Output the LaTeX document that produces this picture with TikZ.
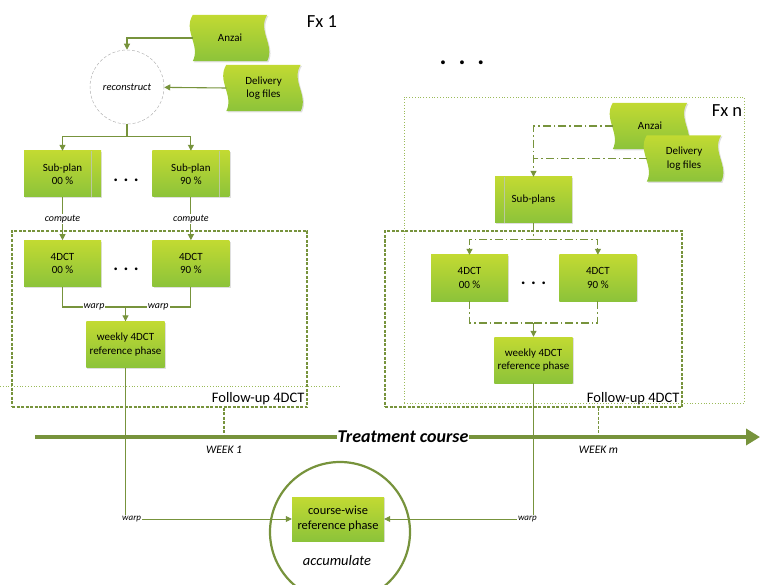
\documentclass[tikz,border=0pt]{standalone}
\usepackage{fontspec}
\setmainfont{Carlito}
\usepackage{tikz}
\usetikzlibrary{shapes,arrows.meta,shadows,backgrounds}
\usetikzlibrary{positioning}

\definecolor{olive}{RGB}{119,147,60}
\definecolor{lightolive}{RGB}{155,187,89}
\definecolor{limetop}{RGB}{194,218,50}
\definecolor{limebot}{RGB}{140,195,58}

\tikzstyle{line} = [olive, line width=1.1pt]
\tikzstyle{arrow} = [line, -{Triangle[length=6pt,width=6pt]}]
\tikzstyle{dline} = [line, dash pattern=on 8pt off 3pt on 1.5pt off 3pt]
\tikzstyle{darrow} = [dline, -{Triangle[length=6pt,width=6pt]}]
\tikzstyle{thinline} = [olive, line width=0.7pt]
\tikzstyle{thinarrow} = [thinline, -{Triangle[length=6pt,width=6pt]}]
\tikzstyle{timeline} = [olive, line width=4pt, -{Triangle[length=14pt,width=16pt]}]
\tikzstyle{phase} = [
    rectangle, minimum width=77pt, minimum height=46pt, align=center,
    top color=limetop, bottom color=limebot, draw=none,
    drop shadow={shadow xshift=1.2pt, shadow yshift=-1.2pt, opacity=0.25},
    font=\fontsize{11}{13.5}\selectfont]
\tikzstyle{subplan} = [phase, path picture={
    \draw[olive!50, line width=0.4pt]
      ([xshift=-10pt]path picture bounding box.north east) --
      ([xshift=-10pt]path picture bounding box.south east);}]
\tikzstyle{subplans} = [phase, path picture={
    \draw[olive!50, line width=0.4pt]
      ([xshift=9pt]path picture bounding box.north west) --
      ([xshift=9pt]path picture bounding box.south west);}]
\tikzstyle{tapebox} = [
    rectangle, minimum width=74pt, minimum height=46pt, align=center,
    font=\fontsize{11}{13.5}\selectfont]
\tikzstyle{recon} = [
    circle, draw=gray!60, densely dashed, line width=0.5pt,
    minimum size=74pt, inner sep=0pt, font=\fontsize{10.5}{12}\selectfont\itshape]
\tikzstyle{fubox} = [rectangle, draw=olive, line width=1.3pt,
    dash pattern=on 3pt off 1.5pt, inner sep=0pt]
\tikzstyle{fuline} = [olive, line width=1.3pt, dash pattern=on 3pt off 1.5pt]
\tikzstyle{fxbox} = [rectangle, draw=lightolive, line width=0.8pt, dotted, inner sep=0pt]
\tikzstyle{fxline} = [lightolive, line width=0.8pt, dotted]
\tikzstyle{lbl} = [fill=white, text=black, inner sep=1pt, font=\fontsize{10}{12}\selectfont\itshape]
\tikzstyle{smalllbl} = [inner sep=1pt, font=\fontsize{9}{11}\selectfont\itshape]
\tikzstyle{weeklbl} = [inner sep=1pt, font=\fontsize{11.5}{13}\selectfont\itshape]
\tikzstyle{fulabel} = [inner sep=3pt, font=\fontsize{14.5}{16}\selectfont]
\tikzstyle{fxlabel} = [inner sep=2pt, font=\fontsize{18.5}{20}\selectfont]
\tikzstyle{dots} = [inner sep=0pt, font=\fontsize{18}{18}\selectfont\bfseries]

\begin{document}
\begin{tikzpicture}[x=1pt, y=-1pt, node distance=51pt]
\useasboundingbox (0,0) rectangle (760,585);

% fraction 1
\node (fx1) [fxlabel] at (322,22) {Fx 1};
\node (anzA) [tapebox] at (230,38) {Anzai};
\node (delA) [tapebox] at (263.5,88) {Delivery\\log files};
\node (recon) [recon] at (127,87) {reconstruct};
\node (spA0) [subplan] at (62.5,174) {Sub-plan\\00 \%};
\node (spA9) [subplan, right=of spA0] {Sub-plan\\90 \%};
\node (dotsA1) [dots] at (126,180) {. . .};
\node (fuA) [fubox, minimum width=295pt, minimum height=176pt] at (159.5,319) {};
\node (fuAt) [fulabel, anchor=south east] at (fuA.south east) {Follow-up 4DCT};
\node (ctA0) [phase, below=43pt of spA0] {4DCT\\00 \%};
\node (ctA9) [phase, below=43pt of spA9] {4DCT\\90 \%};
\node (dotsA2) [dots] at (126,269) {. . .};
\node (wkA) [phase] at (125.5,344.5) {weekly 4DCT\\reference phase};

\draw [arrow] (anzA.west) -| (recon.north);
\draw [arrow] (delA.west) -- (recon);
\draw [line] (recon.south) -- ++(0,12) coordinate (splitA);
\draw [arrow] (splitA) -| (spA0.north);
\draw [arrow] (splitA) -| (spA9.north);
\draw [arrow] (spA0) -- node[lbl] {compute} (ctA0);
\draw [arrow] (spA9) -- node[lbl] {compute} (ctA9);
\coordinate (mergeA) at (wkA.north |- 0,307);
\draw [line] (ctA0.south) |- node[lbl, pos=0.75] {warp} (mergeA);
\draw [line] (ctA9.south) |- node[lbl, pos=0.75] {warp} (mergeA);
\draw [arrow] (mergeA) -- (wkA.north);

% fraction n
\node (dotsTop) [dots, font=\fontsize{26}{26}\selectfont\bfseries] at (462,63) {.\hspace{12pt}.\hspace{12pt}.};
\node (fxNbox) [fxbox, minimum width=340pt, minimum height=306pt] at (574,250) {};
\node (fxN) [fxlabel, anchor=north east, yshift=-6pt] at (fxNbox.north east) {Fx n};
\node (fuN) [fubox, minimum width=297pt, minimum height=176pt] at (533.5,319) {};
\node (fuNt) [fulabel, anchor=south east] at (fuN.south east) {Follow-up 4DCT};
\node (anzN) [tapebox] at (650,126) {Anzai};
\node (delN) [tapebox] at (684,158.5) {Delivery\\log files};
\node (spN) [subplans] at (533.5,200) {Sub-plans};
\node (ctN0) [phase] at (469.5,278) {4DCT\\00 \%};
\node (ctN9) [phase, right=of ctN0] {4DCT\\90 \%};
\node (dotsN) [dots] at (533.5,283) {. . .};
\node (wkN) [phase] at (533.5,360) {weekly 4DCT\\reference phase};

\draw [darrow] (anzN.west) -| (spN.north);
\draw [dline] (delN.west) -- (delN.west -| spN.north);
\draw [dline] (spN.south) -- ++(0,16) coordinate (splitN);
\draw [darrow] (splitN) -| (ctN0.north);
\draw [darrow] (splitN) -| (ctN9.north);
\coordinate (mergeN) at (wkN.north |- 0,323);
\draw [dline] (ctN0.south) |- (mergeN);
\draw [dline] (ctN9.south) |- (mergeN);
\draw [darrow] (mergeN) -- (wkN.north);

% tapes behind their texts
\begin{pgfonlayer}{background}
\foreach \t in {anzA,delA,anzN,delN}
  \shade [top color=limetop, bottom color=limebot,
          drop shadow={shadow xshift=1.2pt, shadow yshift=-1.2pt, opacity=0.25}]
    (\t.north west) .. controls +(-10,16) and +(8,-16) .. (\t.south west)
    -- (\t.south east) .. controls +(8,-16) and +(-10,16) .. (\t.north east) -- cycle;
\end{pgfonlayer}

% treatment course
\coordinate (dl0) at (0,386);
\coordinate (dl1) at (340,386);
\draw [fxline] (dl0) -- (dl1);
\coordinate (tl0) at (35,437);
\coordinate (tl1) at (760,437);
\draw [timeline] (tl0) -- (tl1);
\node (course) [fill=white, inner sep=1pt, font=\fontsize{18}{20}\selectfont\bfseries\itshape] at (403,437) {Treatment course};
\coordinate (wk1) at (224,437);
\coordinate (wkm) at (598.5,437);
\draw [fuline] (wk1 |- fuA.south) -- (wk1);
\draw [fuline] (wkm |- fuN.south) -- (wkm);
\node (week1) [weeklbl] at (224,450) {WEEK 1};
\node (weekm) [weeklbl] at (598.5,450) {WEEK m};

% accumulation
\node (acc) [circle, draw=olive, line width=2.2pt, minimum size=140pt, inner sep=0pt] at (340,532) {};
\node (cw) [phase, minimum width=92pt, minimum height=44pt, font=\fontsize{12.4}{15}\selectfont] at (338,519) {course-wise\\reference phase};
\node (accT) [font=\fontsize{14.5}{16}\selectfont\itshape] at (337,561) {accumulate};
\node (warpA) [smalllbl, anchor=west] at (121,519) {warp};
\node (warpN) [smalllbl, anchor=east] at (538,519) {warp};
\draw [thinline] (wkA.south) -- (wkA.south |- warpA.north);
\draw [thinarrow] (warpA.east) -- (cw.west);
\draw [thinline] (wkN.south) -- (wkN.south |- warpN.north);
\draw [thinarrow] (warpN.west) -- (cw.east);
\end{tikzpicture}
\end{document}
